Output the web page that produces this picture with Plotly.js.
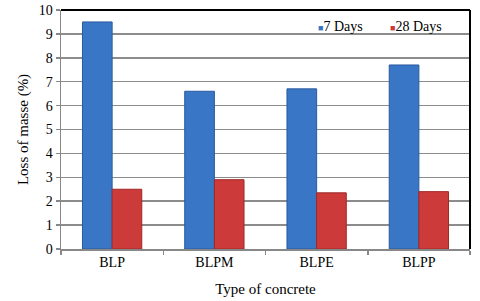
<!DOCTYPE html>
<html>
<head>
<meta charset="utf-8">
<script src="https://cdn.plot.ly/plotly-3.0.1.min.js"></script>
<style>html,body{margin:0;padding:0;background:#fff;}#chart{width:480px;height:301px;}</style>
</head>
<body>
<div id="chart"></div>
<script>
const categories = ["BLP", "BLPM", "BLPE", "BLPP"];
const days7 = [9.5, 6.6, 6.7, 7.7];
const days28 = [2.5, 2.9, 2.35, 2.4];
const seriesNames = ["7 Days", "28 Days"];
const seriesColors = ["#3A76C6", "#CC3A3A"];

const fontFam = "'Times New Roman', 'Liberation Serif', 'DejaVu Serif', serif";
const traces = [
  {type: "bar", name: seriesNames[0], x: categories, y: days7, showlegend: false,
   marker: {color: seriesColors[0], line: {color: "#2A5A9E", width: 1}}},
  {type: "bar", name: seriesNames[1], x: categories, y: days28, showlegend: false,
   marker: {color: seriesColors[1], line: {color: "#A02828", width: 1}}}
];
const legendX = [0.624, 0.799];
const annotations = seriesNames.map((n, i) => ({
  xref: "paper", yref: "paper", x: legendX[i], y: 0.93, xanchor: "left", yanchor: "middle",
  showarrow: false, align: "left",
  text: '<span style="color:' + seriesColors[i] + ';font-size:9px">■</span>' + n,
  font: {family: fontFam, size: 14, color: "#000"}
}));
const layout = {
  width: 480, height: 301,
  margin: {l: 61, r: 10, t: 10, b: 52},
  paper_bgcolor: "#fff", plot_bgcolor: "#fff",
  font: {family: fontFam, size: 14, color: "#000"},
  barmode: "group", bargap: 0.42, bargroupgap: 0,
  showlegend: false,
  annotations: annotations,
  xaxis: {
    showline: true, linecolor: "#888", linewidth: 1.5,
    ticks: "outside", tickson: "boundaries", ticklen: 4, tickcolor: "#888", tickwidth: 1.5,
    tickfont: {family: fontFam, size: 14}, showgrid: false,
    title: {text: "Type of concrete", font: {family: fontFam, size: 15}, standoff: 14}
  },
  yaxis: {
    range: [0, 10], dtick: 1, showline: true, linecolor: "#888", linewidth: 1.5,
    ticks: "outside", ticklen: 4, tickcolor: "#888", tickwidth: 1.5,
    showgrid: true, gridcolor: "#8c8c8c", gridwidth: 1.5, zeroline: false,
    tickfont: {family: fontFam, size: 14},
    title: {text: "Loss of masse (%)", font: {family: fontFam, size: 15}, standoff: 6}
  },
  shapes: [
    {type: "line", xref: "paper", yref: "paper", x0: 0, x1: 1, y0: 1, y1: 1, line: {color: "#000", width: 2}},
    {type: "line", xref: "paper", yref: "paper", x0: 1, x1: 1, y0: 0, y1: 1, line: {color: "#000", width: 2}}
  ]
};
Plotly.newPlot("chart", traces, layout, {displayModeBar: false, staticPlot: true});
</script>
</body>
</html>
